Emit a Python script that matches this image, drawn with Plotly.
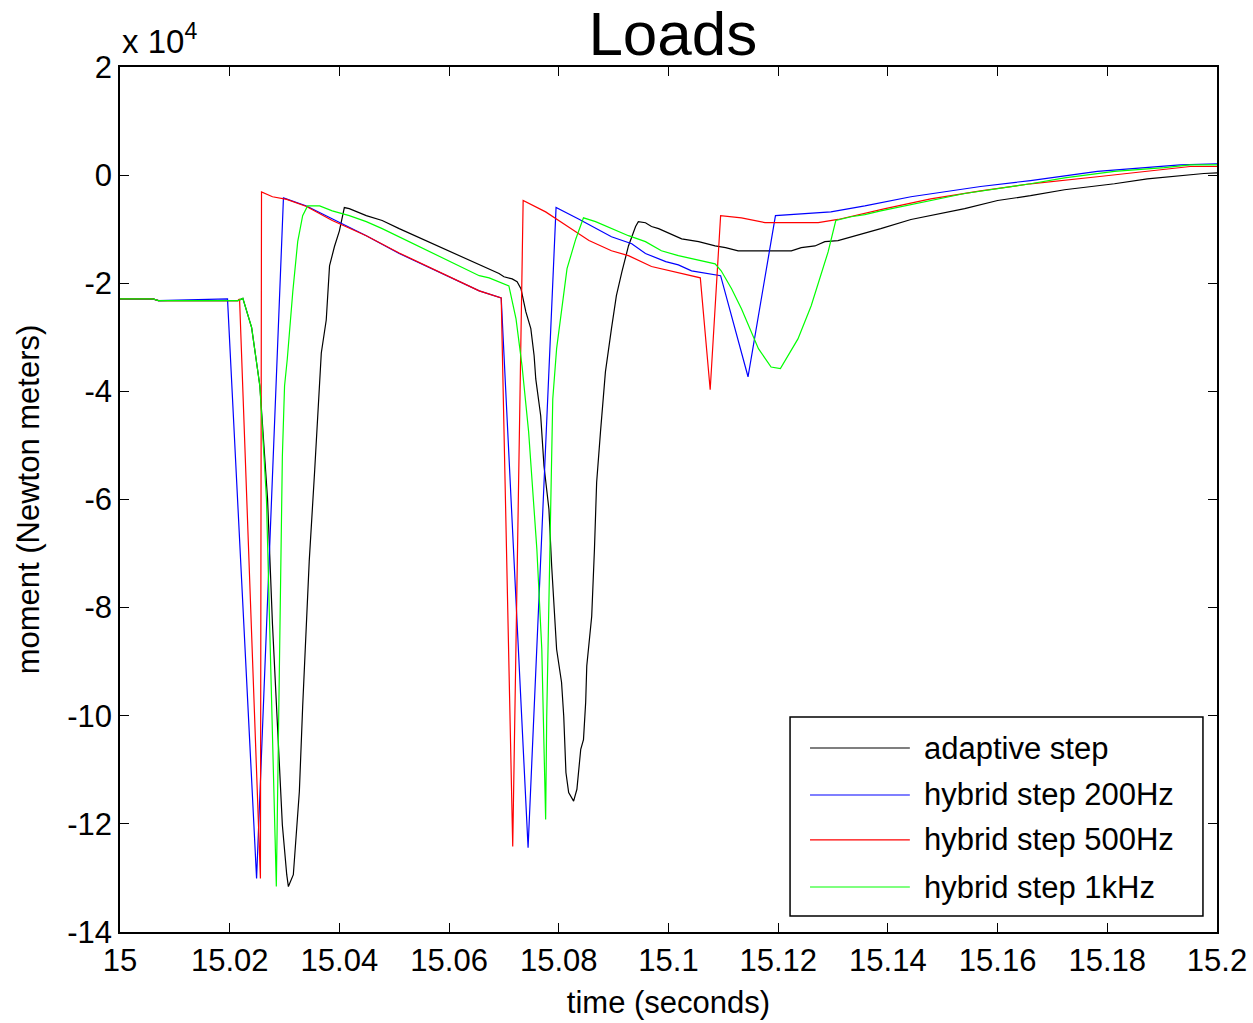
import plotly.graph_objects as go

# ---------------- data (time in s, moment in 1e4 N*m) ----------------
series_names = ["adaptive step", "hybrid step 200Hz", "hybrid step 500Hz", "hybrid step 1kHz"]
series_colors = ["#000000", "#0000FF", "#FF0000", "#00FF00"]

t_adaptive = [15.0000, 15.0060, 15.0070, 15.0215, 15.0224, 15.0240, 15.0255, 15.0269, 15.0278, 15.0285,
              15.0291, 15.0296, 15.0304, 15.0307, 15.0316, 15.0322, 15.0327, 15.0333, 15.0340, 15.0345,
              15.0355, 15.0367, 15.0376, 15.0382, 15.0391, 15.0400, 15.0409, 15.0418, 15.0449, 15.0478,
              15.0509, 15.0655, 15.0673, 15.0691, 15.0700, 15.0715, 15.0724, 15.0731, 15.0740, 15.0749,
              15.0755, 15.0758, 15.0767, 15.0773, 15.0782, 15.0787, 15.0796, 15.0805, 15.0809, 15.0813,
              15.0818, 15.0827, 15.0833, 15.0840, 15.0845, 15.0849, 15.0851, 15.0860, 15.0865, 15.0869,
              15.0876, 15.0885, 15.0896, 15.0905, 15.0915, 15.0927, 15.0940, 15.0945, 15.0958, 15.0969,
              15.0982, 15.0995, 15.1024, 15.1055, 15.1085, 15.1104, 15.1127, 15.1224, 15.1242, 15.1267,
              15.1285, 15.1309, 15.1358, 15.1387, 15.1442, 15.1540, 15.1600, 15.1660, 15.1722, 15.1813,
              15.1873, 15.1933, 15.1976, 15.2000]
m_adaptive = [-2.29, -2.29, -2.32, -2.32, -2.28, -2.82, -3.90, -5.99, -8.31, -9.69,
              -11.01, -12.02, -12.94, -13.16, -12.94, -12.16, -11.40, -9.84, -8.31, -7.14,
              -5.45, -3.29, -2.68, -1.68, -1.32, -1.03, -0.60, -0.62, -0.75, -0.84,
              -0.99, -1.66, -1.73, -1.82, -1.88, -1.92, -1.97, -2.10, -2.53, -2.84,
              -3.34, -3.77, -4.45, -5.38, -6.18, -7.23, -8.77, -9.38, -10.01, -11.05,
              -11.42, -11.58, -11.36, -10.62, -10.44, -9.75, -9.08, -8.16, -6.92, -5.68,
              -4.75, -3.64, -2.84, -2.23, -1.79, -1.31, -0.95, -0.86, -0.88, -0.95,
              -0.99, -1.05, -1.18, -1.23, -1.31, -1.34, -1.40, -1.40, -1.34, -1.31,
              -1.23, -1.21, -1.08, -0.99, -0.82, -0.62, -0.47, -0.38, -0.27, -0.16,
              -0.07, -0.01, 0.03, 0.04]

t_200hz = [15.0000, 15.0060, 15.0070, 15.0196, 15.0249, 15.0298, 15.0340, 15.0387, 15.0449, 15.0509,
           15.0655, 15.0695, 15.0744, 15.0795, 15.0836, 15.0896, 15.0933, 15.0958, 15.0995, 15.1018,
           15.1042, 15.1095, 15.1145, 15.1195, 15.1255, 15.1296, 15.1358, 15.1442, 15.1569, 15.1660,
           15.1782, 15.1933, 15.2000]
m_200hz = [-2.29, -2.29, -2.32, -2.29, -13.01, -0.42, -0.57, -0.81, -1.12, -1.45,
           -2.14, -2.27, -12.44, -0.60, -0.81, -1.14, -1.27, -1.45, -1.60, -1.66,
           -1.77, -1.86, -3.73, -0.75, -0.71, -0.68, -0.57, -0.40, -0.21, -0.10,
           0.07, 0.19, 0.21]

t_500hz = [15.0000, 15.0060, 15.0070, 15.0215, 15.0218, 15.0256, 15.0258, 15.0278, 15.0304, 15.0340,
           15.0387, 15.0449, 15.0509, 15.0655, 15.0695, 15.0716, 15.0735, 15.0776, 15.0815, 15.0855,
           15.0896, 15.0927, 15.0969, 15.1018, 15.1058, 15.1076, 15.1095, 15.1133, 15.1176, 15.1273,
           15.1309, 15.1395, 15.1478, 15.1569, 15.1660, 15.1782, 15.1873, 15.1951, 15.2000]
m_500hz = [-2.29, -2.29, -2.32, -2.32, -2.29, -13.01, -0.31, -0.40, -0.45, -0.58,
           -0.84, -1.12, -1.44, -2.14, -2.27, -12.42, -0.47, -0.68, -0.94, -1.21,
           -1.40, -1.49, -1.69, -1.81, -1.90, -3.97, -0.75, -0.79, -0.88, -0.88,
           -0.82, -0.62, -0.44, -0.29, -0.16, -0.03, 0.07, 0.16, 0.16]

t_1khz = [15.0000, 15.0060, 15.0070, 15.0215, 15.0224, 15.0240, 15.0255, 15.0267, 15.0285, 15.0291,
          15.0296, 15.0300, 15.0305, 15.0315, 15.0324, 15.0333, 15.0342, 15.0364, 15.0387, 15.0418,
          15.0449, 15.0478, 15.0509, 15.0655, 15.0673, 15.0691, 15.0709, 15.0722, 15.0733, 15.0745,
          15.0760, 15.0769, 15.0776, 15.0778, 15.0784, 15.0789, 15.0796, 15.0805, 15.0815, 15.0831,
          15.0845, 15.0867, 15.0896, 15.0927, 15.0958, 15.0987, 15.1018, 15.1055, 15.1085, 15.1096,
          15.1115, 15.1133, 15.1164, 15.1187, 15.1204, 15.1236, 15.1260, 15.1291, 15.1305, 15.1333,
          15.1358, 15.1387, 15.1449, 15.1540, 15.1660, 15.1722, 15.1813, 15.1904, 15.1951, 15.2000]
m_1khz = [-2.29, -2.29, -2.32, -2.32, -2.28, -2.82, -3.90, -5.99, -13.16, -9.08,
          -5.21, -3.90, -3.40, -2.16, -1.23, -0.75, -0.57, -0.57, -0.66, -0.75,
          -0.86, -0.99, -1.14, -1.86, -1.90, -1.97, -2.05, -2.66, -3.53, -4.75,
          -6.92, -8.77, -11.92, -10.01, -6.92, -4.14, -3.21, -2.51, -1.73, -1.18,
          -0.79, -0.86, -0.99, -1.12, -1.23, -1.40, -1.49, -1.58, -1.64, -1.77,
          -2.10, -2.47, -3.21, -3.55, -3.58, -3.03, -2.42, -1.42, -0.84, -0.77,
          -0.73, -0.66, -0.53, -0.34, -0.16, -0.05, 0.07, 0.14, 0.19, 0.19]

x_tick_vals = [15.0, 15.02, 15.04, 15.06, 15.08, 15.1, 15.12, 15.14, 15.16, 15.18, 15.2]
x_tick_text = ["15", "15.02", "15.04", "15.06", "15.08", "15.1", "15.12", "15.14", "15.16", "15.18", "15.2"]
y_tick_vals = [-14, -12, -10, -8, -6, -4, -2, 0, 2]
y_tick_text = ["-14", "-12", "-10", "-8", "-6", "-4", "-2", "0", "2"]

# ---------------- figure ----------------
FONT = "Liberation Sans, Arial, sans-serif"
series_t = [t_adaptive, t_200hz, t_500hz, t_1khz]
series_m = [m_adaptive, m_200hz, m_500hz, m_1khz]

fig = go.Figure()
for name, color, tt, mm in zip(series_names, series_colors, series_t, series_m):
    fig.add_trace(go.Scatter(x=tt, y=mm, mode="lines", name=name,
                             line=dict(color=color, width=1.2), showlegend=False))

axis_common = dict(showline=True, linecolor="black", linewidth=1.5, mirror="allticks",
                   ticks="inside", ticklen=9, tickwidth=1.2, tickcolor="black",
                   showgrid=False, zeroline=False, automargin=False,
                   tickfont=dict(family=FONT, size=31, color="black"))

fig.update_layout(
    width=1253, height=1023,
    margin=dict(l=120, r=36, t=67, b=91),
    paper_bgcolor="white", plot_bgcolor="white",
    font=dict(family=FONT, color="black"),
    title=dict(text="Loads", x=0.537, xanchor="center", y=1 - 33 / 1023, yanchor="middle",
               font=dict(family=FONT, size=62, color="black")),
    xaxis=dict(range=[15.0, 15.2], tickvals=x_tick_vals, ticktext=x_tick_text,
               title=dict(text="time (seconds)", font=dict(family=FONT, size=31), standoff=14),
               **axis_common),
    yaxis=dict(range=[-14, 2], tickvals=y_tick_vals, ticktext=y_tick_text,
               title=dict(text="moment (Newton meters)", font=dict(family=FONT, size=31), standoff=18),
               **axis_common),
)

# exponent label
fig.add_annotation(text="x 10<sup>4</sup>", xref="paper", yref="paper", x=0.0, y=1.032,
                   xanchor="left", yanchor="middle", showarrow=False,
                   font=dict(family=FONT, size=33, color="black"))

# manual legend (MATLAB style, long line samples)
lx0, lx1, ly0, ly1 = 0.6108, 0.9872, 0.0185, 0.2486
fig.add_shape(type="rect", xref="paper", yref="paper", x0=lx0, x1=lx1, y0=ly0, y1=ly1,
              line=dict(color="black", width=1.5), fillcolor="white", layer="above")
row_y = [0.2127, 0.1584, 0.1064, 0.0520]
for name, color, ry in zip(series_names, series_colors, row_y):
    fig.add_shape(type="line", xref="paper", yref="paper", x0=0.629, x1=0.720, y0=ry, y1=ry,
                  line=dict(color=color, width=1.2), layer="above")
    fig.add_annotation(text=name, xref="paper", yref="paper", x=0.731, y=ry,
                       xanchor="left", yanchor="middle", showarrow=False,
                       font=dict(family=FONT, size=31, color="black"))

fig.write_html("out.html", config={"displayModeBar": False},
               post_script="document.body.style.margin='0';")
